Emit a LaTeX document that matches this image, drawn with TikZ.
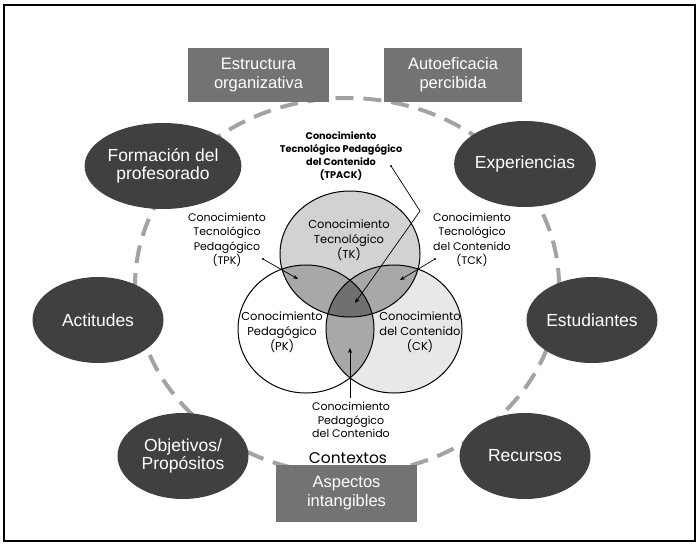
\documentclass[tikz,border=0pt]{standalone}
\usepackage{fontspec}
\setmainfont{Liberation Sans}
\newfontfamily\gothic{Poppins}
\usetikzlibrary{shapes.geometric,arrows.meta}
\definecolor{darkell}{HTML}{404040}
\definecolor{boxgray}{HTML}{737373}
\definecolor{dashgray}{HTML}{A3A3A3}
\definecolor{tkfill}{HTML}{D2D2D2}
\definecolor{ckfill}{HTML}{E8E8E8}
\definecolor{ovfill}{HTML}{A8A8A8}
\definecolor{cenfill}{HTML}{707070}
\begin{document}
\begin{tikzpicture}[x=1pt,y=-1pt,
  darkellipse/.style={ellipse, fill=darkell, text=white, minimum width=131pt, minimum height=86pt, inner sep=0pt, align=center, font=\fontsize{17.5}{17.5}\selectfont},
  graybox/.style={rectangle, fill=boxgray, text=white, inner sep=0pt, align=center, font=\fontsize{16.5}{19}\selectfont},
  vlabel/.style={align=center, inner sep=0pt, font=\gothic\fontsize{11.5}{15}\selectfont},
  pointer/.style={line width=0.7pt, -{Stealth[length=5pt,width=4pt]}},
  vennline/.style={line width=1pt, draw=black},
  dotmark/.style={circle, fill=black, inner sep=0pt, minimum size=2.2pt}
]
\useasboundingbox (0,0) rectangle (700,543);
\draw[line width=1.5pt] (4,5) rectangle (695,541);
% dashed context ellipse
\draw[dashgray, line width=4pt, dash pattern=on 18pt off 10pt] (347,286) ellipse [x radius=212pt, y radius=188pt];
% boxes
\node[graybox, minimum width=141pt, minimum height=54pt] (estr) at (258.5,75) {Estructura\\organizativa};
\node[graybox, minimum width=138pt, minimum height=54pt] (auto) at (453,75) {Autoeficacia\\percibida};
\node[graybox, minimum width=141pt, minimum height=57pt] (asp) at (346.5,493.5) {Aspectos\\intangibles};
% dark ellipses
\node[darkellipse] (form) at (163,166) {Formación del\\profesorado};
\node[darkellipse] (exper) at (525,164) {Experiencias};
\node[darkellipse] (actit) at (98,320) {Actitudes};
\node[darkellipse] (estud) at (592,320) {Estudiantes};
\node[darkellipse] (objet) at (183,456) {Objetivos/\\Propósitos};
\node[darkellipse] (recur) at (525,456) {Recursos};
% Venn
\coordinate (tkc) at (350,254);
\coordinate (pkc) at (306,329);
\coordinate (ckc) at (394,329);
\fill[tkfill] (tkc) ellipse [x radius=70pt, y radius=63pt];
\fill[white] (pkc) ellipse [x radius=68pt, y radius=64pt];
\fill[ckfill] (ckc) ellipse [x radius=68pt, y radius=64pt];
\begin{scope}
  \clip (tkc) ellipse [x radius=70pt, y radius=63pt];
  \fill[ovfill] (pkc) ellipse [x radius=68pt, y radius=64pt];
  \fill[ovfill] (ckc) ellipse [x radius=68pt, y radius=64pt];
\end{scope}
\begin{scope}
  \clip (pkc) ellipse [x radius=68pt, y radius=64pt];
  \fill[ovfill] (ckc) ellipse [x radius=68pt, y radius=64pt];
\end{scope}
\begin{scope}
  \clip (tkc) ellipse [x radius=70pt, y radius=63pt];
  \clip (pkc) ellipse [x radius=68pt, y radius=64pt];
  \fill[cenfill] (ckc) ellipse [x radius=68pt, y radius=64pt];
\end{scope}
\draw[vennline] (tkc) ellipse [x radius=70pt, y radius=63pt];
\draw[vennline] (pkc) ellipse [x radius=68pt, y radius=64pt];
\draw[vennline] (ckc) ellipse [x radius=68pt, y radius=64pt];
% labels
\node[vlabel] (tk) at (349,240) {Conocimiento\\Tecnológico\\(TK)};
\node[vlabel] (pk) at (282,332) {Conocimiento\\Pedagógico\\(PK)};
\node[vlabel] (ck) at (420,332) {Conocimiento\\del Contenido\\(CK)};
\node[vlabel, font=\gothic\fontsize{11}{14.5}\selectfont] (tpk) at (227,240) {Conocimiento\\Tecnológico\\Pedagógico\\(TPK)};
\node[vlabel, font=\gothic\fontsize{11}{14.5}\selectfont] (tck) at (472,240) {Conocimiento\\Tecnológico\\del Contenido\\(TCK)};
\node[vlabel, font=\gothic\fontsize{11}{13.5}\selectfont] (pck) at (351,420) {Conocimiento\\Pedagógico\\del Contenido};
\node[vlabel, font=\gothic\bfseries\fontsize{9.7}{13}\selectfont] (tpack) at (341,156) {Conocimiento\\Tecnológico Pedagógico\\del Contenido\\(TPACK)};
\node[inner sep=0pt, font=\gothic\fontsize{15.5}{16}\selectfont] (ctx) at (348,458) {Contextos};
% pointers
\coordinate (tpkstart) at (263,259);
\coordinate (tpkend) at (298,279);
\coordinate (tckstart) at (435,259);
\coordinate (tckend) at (400,280);
\coordinate (pckstart) at (350,398);
\coordinate (pckend) at (350,348);
\coordinate (tpackstart) at (391,166);
\coordinate (tpackbend) at (420,211);
\coordinate (tpackend) at (355,303);
\node[dotmark] at (tpkstart) {};
\node[dotmark] at (tckstart) {};
\node[dotmark] at (tpackstart) {};
\draw[pointer] (tpkstart) -- (tpkend);
\draw[pointer] (tckstart) -- (tckend);
\draw[pointer] (pckstart) -- (pckend);
\draw[pointer] (tpackstart) -- (tpackbend) -- (tpackend);
\end{tikzpicture}
\end{document}
